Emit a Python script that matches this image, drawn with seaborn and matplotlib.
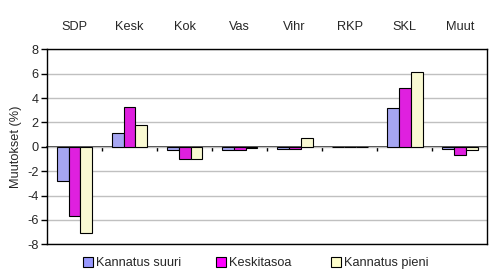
import matplotlib
matplotlib.use("Agg")
import matplotlib.pyplot as plt
import seaborn as sns
import pandas as pd
from matplotlib.patches import Patch

categories = ["SDP", "Kesk", "Kok", "Vas", "Vihr", "RKP", "SKL", "Muut"]
series_names = ["Kannatus suuri", "Keskitasoa", "Kannatus pieni"]
suuri = [-2.8, 1.1, -0.3, -0.3, -0.2, 0.0, 3.2, -0.2]
keski = [-5.7, 3.3, -1.0, -0.3, -0.2, 0.0, 4.8, -0.7]
pieni = [-7.1, 1.8, -1.0, -0.1, 0.7, 0.0, 6.1, -0.3]
colors = ["#9999FF", "#FF00FF", "#FFFFCC"]
yticks = [-8, -6, -4, -2, 0, 2, 4, 6, 8]

sns.set_theme(style="white")
plt.rcParams['font.family'] = ['Liberation Sans', 'DejaVu Sans']

rows = []
for name, vals in zip(series_names, [suuri, keski, pieni]):
    for c, v in zip(categories, vals):
        rows.append({"cat": c, "series": name, "val": v})
df = pd.DataFrame(rows)

fs = 9.2
fig = plt.figure(figsize=(4.93, 2.77), dpi=100)
ax = fig.add_axes([0.0953, 0.118, 0.893, 0.704])
sns.barplot(data=df, x="cat", y="val", hue="series", order=categories,
            hue_order=series_names, palette=colors, width=0.65,
            edgecolor="black", linewidth=0.8, ax=ax, legend=False)

ax.set_ylim(-8, 8)
ax.set_xlim(-0.5, len(categories) - 0.5)
ax.set_yticks(yticks)
ax.set_yticklabels([str(t) for t in yticks], fontsize=fs)
ax.yaxis.grid(True, color="#C0C0C0", linewidth=1)
ax.set_axisbelow(True)
for s in ax.spines.values():
    s.set_visible(True)
    s.set_color("black")
    s.set_linewidth(1)
ax.tick_params(axis="y", left=True, length=4, width=1, color="black", pad=2)
ax.tick_params(axis="x", bottom=False, top=False, length=0, labelbottom=False,
               labeltop=True, labelsize=fs, pad=11.5)
ax.set_xlabel("")
ax.set_ylabel("Muutokset (%)", fontsize=fs, labelpad=4)

# zero line with category separator ticks
sec = ax.secondary_xaxis(0.5)
sec.set_xticks([i + 0.5 for i in range(len(categories) - 1)])
sec.set_xticklabels([])
sec.tick_params(axis="x", which="both", direction="out", length=3, width=1,
                color="black", top=False, bottom=True)
sec.spines["bottom"].set_color("black")
sec.spines["bottom"].set_linewidth(1)

# legend items at Excel-like positions
xs = [0.168, 0.438, 0.671]
for name, col, x in zip(series_names, colors, xs):
    h = Patch(facecolor=col, edgecolor="black", linewidth=0.8)
    fig.legend([h], [name], loc="center left", bbox_to_anchor=(x, 0.05),
               frameon=False, fontsize=fs, handlelength=0.8,
               handleheight=0.8, handletextpad=0.25, borderpad=0,
               borderaxespad=0)

fig.savefig("out.png", dpi=100)
